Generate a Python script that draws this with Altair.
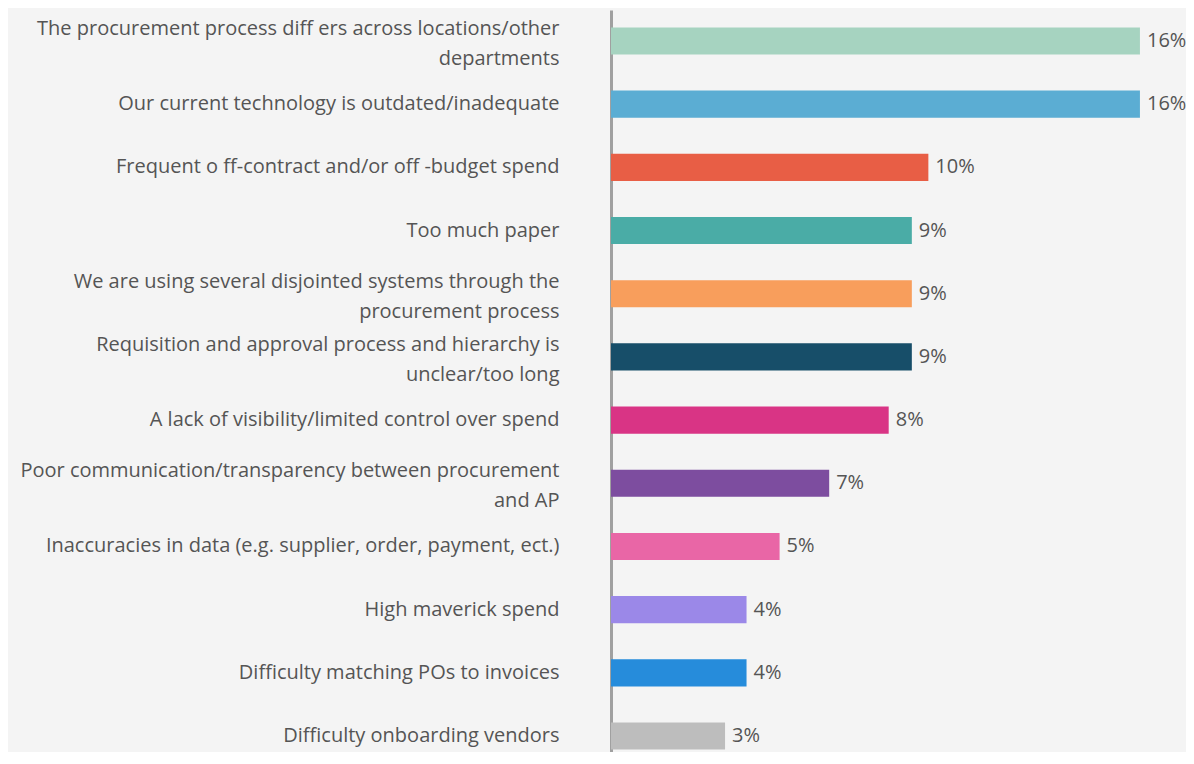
import altair as alt
import pandas as pd

categories = [
    "The procurement process diff  ers across locations/other|departments",
    "Our current technology is outdated/inadequate",
    "Frequent o ff-contract and/or off  -budget spend",
    "Too much paper",
    "We are using several disjointed systems through the|procurement process",
    "Requisition and approval process and hierarchy is|unclear/too long",
    "A lack of visibility/limited control over spend",
    "Poor communication/transparency between procurement|and AP",
    "Inaccuracies in data (e.g. supplier, order, payment, ect.)",
    "High maverick spend",
    "Difficulty matching POs to invoices",
    "Difficulty onboarding vendors",
]
values = [16.0, 16.0, 9.6, 9.1, 9.1, 9.1, 8.4, 6.6, 5.1, 4.1, 4.1, 3.45]
colors = ["#a6d3c0", "#5badd3", "#e85e45", "#4aaca6", "#f89e5c", "#174e69",
          "#d93485", "#7d4d9f", "#e966a6", "#9b88e8", "#268cdb", "#bdbdbd"]

df = pd.DataFrame({"cat": categories, "val": values})

FONT = "Open Sans"
TXT = "#555555"

y_enc = alt.Y("cat:N", sort=None,
              scale=alt.Scale(paddingInner=0.57, paddingOuter=0.275, range=[2, 759]),
              axis=alt.Axis(title=None, labelExpr="split(datum.label, '|')",
                            labelAlign="right", labelBaseline="middle",
                            labelOffset={"condition": {"test": "indexof(datum.value, '|') >= 0", "value": -12},
                                         "value": 0},
                            labelPadding=52, labelFont=FONT, labelFontSize=20,
                            labelColor=TXT, labelLineHeight=30, labelLimit=620,
                            ticks=False, domain=True, domainColor="#a0a0a0",
                            domainWidth=3, grid=False))
x_enc = alt.X("val:Q", scale=alt.Scale(domain=[0, 17], nice=False), axis=None)

bars = alt.Chart(df).mark_bar().encode(
    x=x_enc, y=y_enc,
    color=alt.Color("cat:N", scale=alt.Scale(domain=categories, range=colors), legend=None),
)

texts = alt.Chart(df).transform_calculate(
    lab="format(datum.val, '.0f') + '%'"
).mark_text(align="left", baseline="middle", dx=7, font=FONT, fontSize=20, color=TXT).encode(
    x=x_enc, y=y_enc, text="lab:N"
)

chart = alt.layer(bars, texts).properties(
    width=562, height=744,
    autosize=alt.AutoSizeParams(type="none"),
    padding={"left": 603, "top": 0, "right": 13, "bottom": 0},
    background="#f4f4f4",
).configure_view(stroke=None)

chart.save("out.html", embed_options={"renderer": "svg", "actions": False})
